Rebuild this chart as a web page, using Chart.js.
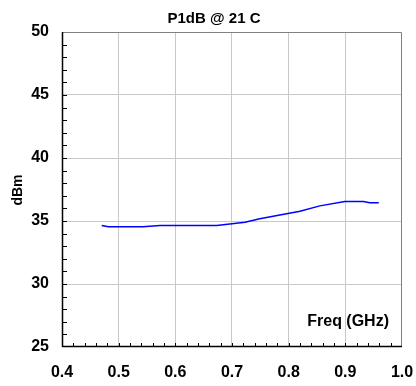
<!DOCTYPE html>
<html>
<head>
<meta charset="utf-8">
<script src="https://cdn.jsdelivr.net/npm/chart.js@4"></script>
<style>
  html, body { margin: 0; padding: 0; background: #fff; }
</style>
</head>
<body>
<canvas id="myChart" width="416" height="386"></canvas>
<script>
// data
const freq = [0.47, 0.482, 0.543, 0.573, 0.673, 0.723, 0.749, 0.82, 0.855, 0.899, 0.932, 0.943, 0.959];
const p1db = [34.65, 34.55, 34.55, 34.65, 34.65, 34.9, 35.18, 35.78, 36.2, 36.55, 36.55, 36.45, 36.45];
const xTicks = [0.4, 0.5, 0.6, 0.7, 0.8, 0.9, 1.0];
const yTicks = [25, 30, 35, 40, 45, 50];

const FONT = 'Liberation Sans, Arial, sans-serif';

// minor tick marks pointing into the plot, plus title and labels
const decor = {
  id: 'decor',
  beforeDatasetsDraw(chart) {
    const { ctx, chartArea: a, scales: { x, y } } = chart;
    ctx.save();
    ctx.strokeStyle = '#000';
    ctx.lineWidth = 1;
    ctx.beginPath();
    for (let v = 26; v < 50; v++) {
      const py = Math.round(y.getPixelForValue(v)) + 0.5;
      ctx.moveTo(a.left, py);
      ctx.lineTo(a.left + 5, py);
    }
    for (let i = 1; i < 30; i++) {
      const px = Math.round(x.getPixelForValue(0.4 + i * 0.02)) + 0.5;
      ctx.moveTo(px, a.bottom);
      ctx.lineTo(px, a.bottom - 4);
    }
    ctx.stroke();
    // frame: grey top/right, black left/bottom
    ctx.strokeStyle = '#808080';
    ctx.beginPath();
    ctx.moveTo(a.left, a.top + 0.5);
    ctx.lineTo(a.right - 0.5, a.top + 0.5);
    ctx.lineTo(a.right - 0.5, a.bottom);
    ctx.stroke();
    ctx.strokeStyle = '#000';
    ctx.lineWidth = 1.5;
    ctx.beginPath();
    ctx.moveTo(a.left + 0.5, a.top);
    ctx.lineTo(a.left + 0.5, a.bottom - 0.5);
    ctx.lineTo(a.right, a.bottom - 0.5);
    ctx.stroke();
    ctx.restore();
  },
  afterDraw(chart) {
    const { ctx, chartArea: a } = chart;
    ctx.save();
    ctx.fillStyle = '#000';
    ctx.textBaseline = 'middle';
    ctx.font = 'bold 15px ' + FONT;
    ctx.textAlign = 'center';
    ctx.fillText('P1dB @ 21 C', 214, 19);
    ctx.font = 'bold 16px ' + FONT;
    ctx.textAlign = 'right';
    ctx.fillText('Freq (GHz)', a.right - 13, 322);
    ctx.font = 'bold 14px ' + FONT;
    ctx.translate(18, 190);
    ctx.rotate(-Math.PI / 2);
    ctx.textAlign = 'center';
    ctx.fillText('dBm', 0, 0);
    ctx.restore();
  }
};

const data = {
  datasets: [{
    data: freq.map((f, i) => ({ x: f, y: p1db[i] })),
    borderColor: '#0000ff',
    borderWidth: 1.5,
    pointRadius: 0,
    fill: false,
    tension: 0
  }]
};

const config = {
  type: 'line',
  data: data,
  options: {
    responsive: false,
    animation: false,
    layout: { padding: { top: 32, right: 14, left: 0, bottom: 0 } },
    plugins: { legend: { display: false }, title: { display: false }, tooltip: { enabled: false } },
    scales: {
      x: {
        type: 'linear',
        min: 0.4,
        max: 1.0,
        afterBuildTicks: s => { s.ticks = xTicks.map(v => ({ value: v })); },
        afterFit: s => { s.height = 39; s.paddingLeft = 0; s.paddingRight = 0; },
        border: { display: false },
        grid: {
          drawTicks: false,
          color: c => (c.tick && (c.tick.value > 0.45 && c.tick.value < 0.95)) ? '#c8c8c8' : 'transparent'
        },
        ticks: {
          padding: 16,
          color: '#000',
          font: { family: FONT, size: 16, weight: 'bold' },
          callback: v => Number(v).toFixed(1),
          maxRotation: 0,
          autoSkip: false
        }
      },
      y: {
        min: 25,
        max: 50,
        afterBuildTicks: s => { s.ticks = yTicks.map(v => ({ value: v })); },
        afterFit: s => { s.width = 62; s.paddingTop = 0; s.paddingBottom = 0; },
        border: { display: false },
        grid: {
          drawTicks: false,
          color: c => (c.tick && c.tick.value > 25 && c.tick.value < 50) ? '#c8c8c8' : 'transparent'
        },
        ticks: {
          padding: 13,
          color: '#000',
          font: { family: FONT, size: 16, weight: 'bold' },
          callback: v => String(v)
        }
      }
    }
  },
  plugins: [decor]
};

const ctx = document.getElementById('myChart');
const myChart = new Chart(ctx, config);
</script>
</body>
</html>
